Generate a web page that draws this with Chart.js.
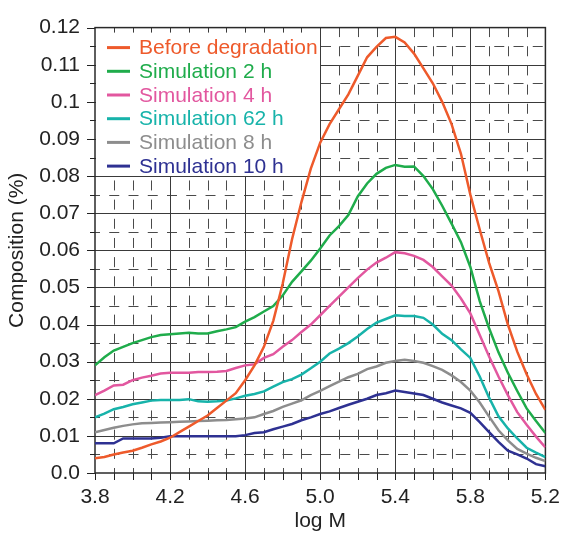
<!DOCTYPE html>
<html lang="en">
<head>
<meta charset="UTF-8">
<title>Composition vs log M</title>
<script src="https://cdn.jsdelivr.net/npm/chart.js@4.4.1/dist/chart.umd.min.js"></script>
<style>
  html, body { margin: 0; padding: 0; background: #fff; }
  canvas { display: block; }
</style>
</head>
<body>
<canvas id="chart" width="572" height="539"></canvas>
<script>
// x positions (log M)
const logM = [3.80, 3.85, 3.90, 3.95, 4.00, 4.05, 4.10, 4.15, 4.20, 4.25,
              4.30, 4.35, 4.40, 4.45, 4.50, 4.55, 4.60, 4.65, 4.70, 4.75,
              4.80, 4.85, 4.90, 4.95, 5.00, 5.05, 5.10, 5.15, 5.20, 5.25,
              5.30, 5.35, 5.40, 5.45, 5.50, 5.55, 5.60, 5.65, 5.70, 5.75,
              5.80, 5.85, 5.90, 5.95, 6.00, 6.05, 6.10, 6.15, 6.20];

const beforeDeg = [0.0040, 0.0043, 0.0050, 0.0055, 0.0060, 0.0068, 0.0077, 0.0085, 0.0095, 0.0110,
                   0.0125, 0.0140, 0.0155, 0.0175, 0.0195, 0.0215, 0.0250, 0.0290, 0.0340, 0.0410,
                   0.0510, 0.0630, 0.0730, 0.0820, 0.0890, 0.0940, 0.0980, 0.1020, 0.1070, 0.1120,
                   0.1148, 0.1172, 0.1175, 0.1160, 0.1130, 0.1090, 0.1050, 0.1000, 0.0940, 0.0860,
                   0.0750, 0.0656, 0.0566, 0.0490, 0.0400, 0.0327, 0.0266, 0.0213, 0.0170];

const sim2h = [0.0290, 0.0312, 0.0330, 0.0340, 0.0350, 0.0358, 0.0366, 0.0372, 0.0374, 0.0376,
               0.0378, 0.0376, 0.0376, 0.0382, 0.0387, 0.0393, 0.0408, 0.0420, 0.0435, 0.0450,
               0.0478, 0.0515, 0.0543, 0.0572, 0.0605, 0.0640, 0.0665, 0.0695, 0.0745, 0.0780,
               0.0806, 0.0822, 0.0830, 0.0825, 0.0826, 0.0800, 0.0765, 0.0720, 0.0672, 0.0622,
               0.0555, 0.0463, 0.0390, 0.0325, 0.0270, 0.0221, 0.0174, 0.0140, 0.0108];

const sim4h = [0.0210, 0.0222, 0.0236, 0.0238, 0.0250, 0.0257, 0.0262, 0.0268, 0.0270, 0.0270,
               0.0270, 0.0272, 0.0272, 0.0273, 0.0275, 0.0283, 0.0290, 0.0293, 0.0310, 0.0320,
               0.0340, 0.0358, 0.0380, 0.0400, 0.0425, 0.0450, 0.0475, 0.0500, 0.0525, 0.0548,
               0.0567, 0.0580, 0.0595, 0.0592, 0.0585, 0.0574, 0.0555, 0.0530, 0.0505, 0.0470,
               0.0430, 0.0372, 0.0314, 0.0260, 0.0210, 0.0164, 0.0130, 0.0098, 0.0069];

const sim62h = [0.0150, 0.0160, 0.0172, 0.0178, 0.0185, 0.0190, 0.0195, 0.0197, 0.0197, 0.0197,
                0.0199, 0.0193, 0.0192, 0.0193, 0.0195, 0.0201, 0.0208, 0.0213, 0.0220, 0.0233,
                0.0245, 0.0253, 0.0265, 0.0282, 0.0300, 0.0322, 0.0335, 0.0350, 0.0368, 0.0388,
                0.0405, 0.0415, 0.0425, 0.0423, 0.0423, 0.0418, 0.0400, 0.0375, 0.0358, 0.0333,
                0.0310, 0.0260, 0.0203, 0.0153, 0.0120, 0.0093, 0.0068, 0.0055, 0.0043];

const sim8h = [0.0110, 0.0116, 0.0122, 0.0127, 0.0131, 0.0134, 0.0135, 0.0136, 0.0137, 0.0138,
               0.0139, 0.0140, 0.0141, 0.0142, 0.0143, 0.0145, 0.0147, 0.0150, 0.0159, 0.0167,
               0.0178, 0.0187, 0.0196, 0.0210, 0.0221, 0.0234, 0.0246, 0.0258, 0.0267, 0.0280,
               0.0287, 0.0297, 0.0302, 0.0305, 0.0302, 0.0297, 0.0288, 0.0278, 0.0263, 0.0245,
               0.0222, 0.0190, 0.0152, 0.0115, 0.0088, 0.0065, 0.0052, 0.0041, 0.0032];

const sim10h = [0.0080, 0.0080, 0.0080, 0.0093, 0.0093, 0.0093, 0.0093, 0.0095, 0.0099, 0.0099,
                0.0099, 0.0099, 0.0099, 0.0099, 0.0099, 0.0099, 0.0102, 0.0108, 0.0110, 0.0118,
                0.0125, 0.0132, 0.0142, 0.0150, 0.0159, 0.0166, 0.0175, 0.0184, 0.0192, 0.0200,
                0.0210, 0.0215, 0.0222, 0.0218, 0.0214, 0.0210, 0.0200, 0.0190, 0.0182, 0.0174,
                0.0162, 0.0137, 0.0110, 0.0084, 0.0060, 0.0050, 0.0039, 0.0024, 0.0018];

const seriesNames = ['Before degradation', 'Simulation 2 h', 'Simulation 4 h',
                     'Simulation 62 h', 'Simulation 8 h', 'Simulation 10 h'];
const seriesColors = ['#ee5a2b', '#1fac4b', '#e2579f', '#17b3aa', '#8d8d8d', '#2e3192'];

const xTickLabels = ['3.8', '4.2', '4.6', '5.0', '5.4', '5.8', '5.2'];
const yTickLabels = ['0.0', '0.01', '0.02', '0.03', '0.04', '0.05', '0.06',
                     '0.07', '0.08', '0.09', '0.1', '0.11', '0.12'];

const FONT = "'Liberation Sans', Arial, Helvetica, sans-serif";

// grid, ticks, legend box drawn under the curves
const frame = {
  id: 'frame',
  beforeDatasetsDraw(chart) {
    const { ctx, chartArea: a, scales: { x, y } } = chart;
    ctx.save();
    ctx.lineWidth = 1;

    // horizontal lines every 0.005
    for (let k = 1; k < 24; k++) {
      const py = Math.round(y.getPixelForValue(k * 0.005)) + 0.5;
      ctx.beginPath();
      if (k % 2 === 0) {
        ctx.setLineDash([]);
        ctx.strokeStyle = '#3a3a3a';
      } else {
        ctx.setLineDash([10, 9.25]);
        ctx.lineDashOffset = 5;
        ctx.strokeStyle = '#4a4a4a';
      }
      ctx.moveTo(a.left, py);
      ctx.lineTo(a.right, py);
      ctx.stroke();
    }
    // vertical lines every 0.1
    for (let k = 1; k < 24; k++) {
      const px = Math.round(x.getPixelForValue(3.8 + k * 0.1)) + 0.5;
      ctx.beginPath();
      if (k % 4 === 0) {
        ctx.setLineDash([]);
        ctx.strokeStyle = '#3a3a3a';
      } else {
        ctx.setLineDash([10, 9.17]);
        ctx.lineDashOffset = 5;
        ctx.strokeStyle = '#4a4a4a';
      }
      ctx.moveTo(px, a.bottom);
      ctx.lineTo(px, a.top);
      ctx.stroke();
    }
    ctx.setLineDash([]);

    // legend box
    const bx = Math.round(x.getPixelForValue(5.0));
    const by = Math.round(y.getPixelForValue(0.08));
    ctx.fillStyle = '#fff';
    ctx.fillRect(a.left + 1, a.top + 1, bx - a.left - 1, by - a.top - 1);

    // small ticks inside top edge of the box
    ctx.strokeStyle = '#3a3a3a';
    for (let k = 1; k < 13; k++) {
      const px = Math.round(x.getPixelForValue(3.8 + k * 0.1)) + 0.5;
      ctx.beginPath();
      ctx.moveTo(px, a.top);
      ctx.lineTo(px, a.top + 5);
      ctx.stroke();
    }

    // outer ticks: left and bottom
    ctx.strokeStyle = '#222';
    for (let k = 0; k <= 24; k++) {
      const py = Math.round(y.getPixelForValue(k * 0.005)) + 0.5;
      ctx.beginPath();
      ctx.moveTo(a.left, py);
      ctx.lineTo(a.left - (k % 2 === 0 ? 8 : 5), py);
      ctx.stroke();
    }
    for (let k = 0; k <= 24; k++) {
      const px = Math.round(x.getPixelForValue(3.8 + k * 0.1)) + 0.5;
      ctx.beginPath();
      ctx.moveTo(px, a.bottom);
      ctx.lineTo(px, a.bottom + 7);
      ctx.stroke();
    }

    // plot border
    ctx.lineWidth = 1.5;
    ctx.strokeStyle = '#2a2a2a';
    ctx.strokeRect(a.left, a.top, a.right - a.left, a.bottom - a.top);

    // legend entries
    ctx.font = '21px ' + FONT;
    ctx.textBaseline = 'middle';
    ctx.textAlign = 'left';
    chart.data.datasets.forEach((ds, i) => {
      const ly = a.top + 20 + i * 23.7;
      ctx.strokeStyle = ds.borderColor;
      ctx.lineWidth = 3;
      ctx.beginPath();
      ctx.moveTo(a.left + 12, ly);
      ctx.lineTo(a.left + 35, ly);
      ctx.stroke();
      ctx.fillStyle = ds.borderColor;
      ctx.fillText(ds.label, a.left + 44, ly + 1);
    });
    ctx.restore();
  }
};

const allSeries = [beforeDeg, sim2h, sim4h, sim62h, sim8h, sim10h];

new Chart(document.getElementById('chart'), {
  type: 'line',
  data: {
    datasets: allSeries.map((vals, i) => ({
      label: seriesNames[i],
      data: logM.map((m, j) => ({ x: m, y: vals[j] })),
      borderColor: seriesColors[i],
      borderWidth: 2.5,
      pointRadius: 0,
      tension: 0,
      fill: false
    }))
  },
  options: {
    responsive: false,
    animation: false,
    layout: { padding: { left: 0, right: 17, top: 13, bottom: 0 } },
    plugins: {
      legend: { display: false },
      tooltip: { enabled: false }
    },
    scales: {
      x: {
        type: 'linear',
        min: 3.8,
        max: 6.2,
        grid: { display: false, drawTicks: false },
        border: { display: false },
        ticks: {
          stepSize: 0.4,
          padding: 12,
          color: '#222',
          font: { family: FONT, size: 21 },
          maxRotation: 0,
          autoSkip: false,
          callback: (v, i) => xTickLabels[i]
        },
        title: {
          display: true,
          text: 'log M',
          color: '#222',
          font: { family: FONT, size: 21 },
          padding: { top: 0, bottom: 5 }
        },
        afterFit: s => { s.height = 66; }
      },
      y: {
        min: 0,
        max: 0.12,
        grid: { display: false, drawTicks: false },
        border: { display: false },
        ticks: {
          stepSize: 0.01,
          padding: 15,
          color: '#222',
          font: { family: FONT, size: 21 },
          autoSkip: false,
          callback: (v, i) => yTickLabels[i]
        },
        title: {
          display: true,
          text: 'Composition (%)',
          color: '#222',
          font: { family: FONT, size: 21 },
          padding: { top: 5, bottom: 0 }
        },
        afterFit: s => { s.width = 95; }
      }
    }
  },
  plugins: [frame]
});
</script>
</body>
</html>
